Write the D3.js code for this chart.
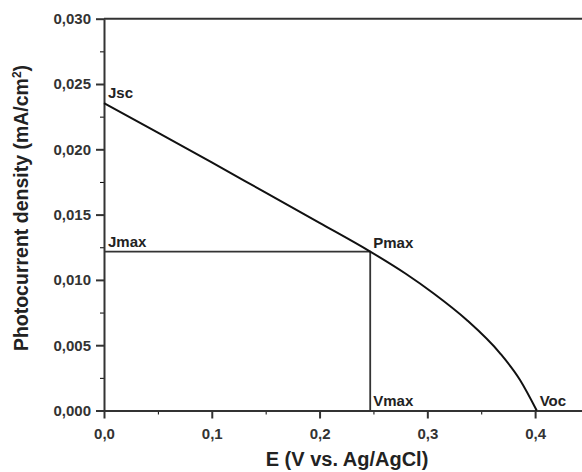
<!DOCTYPE html>
<html>
<head>
<meta charset="utf-8">
<script src="https://cdn.jsdelivr.net/npm/d3@7"></script>
<style>
	body { margin: 0; background: #fff; }
	text { font-family: "Liberation Sans", Arial, sans-serif; fill: #222; }
</style>
</head>
<body>
<div id="chart"></div>
<script>
// J-V curve
const potential = [0, 0.05, 0.1, 0.15, 0.2, 0.247, 0.28, 0.3056, 0.3366, 0.3675, 0.386, 0.4015];
const current = [0.02354, 0.02128, 0.019, 0.01668, 0.01437, 0.01217, 0.01047, 0.00898, 0.00693, 0.00438, 0.00234, 0.0];
const xTicks = [0, 0.1, 0.2, 0.3, 0.4];
const xMinor = [0.05, 0.15, 0.25, 0.35];
const yTicks = [0, 0.005, 0.01, 0.015, 0.02, 0.025, 0.03];
const yMinor = [0.0025, 0.0075, 0.0125, 0.0175, 0.0225, 0.0275];
const vmax = 0.247;
const jmax = 0.01217;
const labels = [
	{ text: "Jsc", e: 0, j: 0.02354, dx: 4, dy: -5 },
	{ text: "Jmax", e: 0, j: jmax, dx: 4, dy: -5 },
	{ text: "Pmax", e: vmax, j: jmax, dx: 3, dy: -4 },
	{ text: "Vmax", e: vmax, j: 0, dx: 3, dy: -5 },
	{ text: "Voc", e: 0.4015, j: 0, dx: 3, dy: -5 },
];

function jvChart(id) {
	const width = 582;
	const height = 472;
	const svg = d3.select("#" + id).append("svg").attr("width", width).attr("height", height);

	const comma = d3.formatLocale({ decimal: ",", thousands: ".", grouping: [3], currency: ["", ""] });

	const x = d3.scaleLinear().domain([0, 0.45]).range([104, 589]);
	const y = d3.scaleLinear().domain([0, 0.03]).range([410.5, 18.7]);

	// minor ticks first, then the major axes on top
	svg.append("g").attr("transform", `translate(0, ${y(0)})`)
		.call(d3.axisBottom(x).tickValues(xMinor).tickSize(4).tickFormat(""))
		.call((g) => g.select(".domain").remove());
	svg.append("g").attr("transform", `translate(${x(0)}, 0)`)
		.call(d3.axisLeft(y).tickValues(yMinor).tickSize(4).tickFormat(""))
		.call((g) => g.select(".domain").remove());

	const xAxis = svg.append("g").attr("transform", `translate(0, ${y(0)})`)
		.call(d3.axisBottom(x).tickValues(xTicks).tickSize(8).tickSizeOuter(0).tickPadding(10).tickFormat(comma.format(".1f")));
	const yAxis = svg.append("g").attr("transform", `translate(${x(0)}, 0)`)
		.call(d3.axisLeft(y).tickValues(yTicks).tickSize(8).tickSizeOuter(0).tickPadding(5).tickFormat(comma.format(".3f")));

	[xAxis, yAxis].forEach((g) => {
		g.selectAll("line, path").attr("stroke", "#333").attr("stroke-width", 2);
		g.selectAll("text").style("font-size", "15px").style("font-weight", "bold").style("fill", "#333");
	});

	// top frame line
	svg.append("line")
		.attr("x1", x(0)).attr("x2", x(0.45))
		.attr("y1", y(0.03)).attr("y2", y(0.03))
		.attr("stroke", "#333").attr("stroke-width", 2);

	// Pmax rectangle guides
	svg.append("path")
		.attr("d", `M${x(0)},${y(jmax)}H${x(vmax)}V${y(0)}`)
		.attr("fill", "none").attr("stroke", "#333").attr("stroke-width", 1.8);

	const line = d3.line()
		.x((d, i) => x(potential[i]))
		.y((d) => y(d))
		.curve(d3.curveMonotoneX);
	svg.append("path")
		.datum(current)
		.attr("d", line)
		.attr("fill", "none")
		.attr("stroke", "#111")
		.attr("stroke-width", 2);

	svg.selectAll(".lbl")
		.data(labels)
		.join("text")
		.attr("class", "lbl")
		.attr("x", (d) => x(d.e) + d.dx)
		.attr("y", (d) => y(d.j) + d.dy)
		.style("font-size", "15px")
		.style("font-weight", "bold")
		.text((d) => d.text);

	svg.append("text")
		.attr("x", 347).attr("y", 466)
		.attr("text-anchor", "middle")
		.style("font-size", "20px").style("font-weight", "bold")
		.text("E (V vs. Ag/AgCl)");

	const yTitle = svg.append("text")
		.attr("transform", "translate(28, 208) rotate(-90)")
		.attr("text-anchor", "middle")
		.style("font-size", "19.5px").style("font-weight", "bold");
	yTitle.append("tspan").text("Photocurrent density (mA/cm");
	yTitle.append("tspan").attr("dy", -7).style("font-size", "12px").text("2");
	yTitle.append("tspan").attr("dy", 7).text(")");
}

jvChart("chart");
</script>
</body>
</html>
